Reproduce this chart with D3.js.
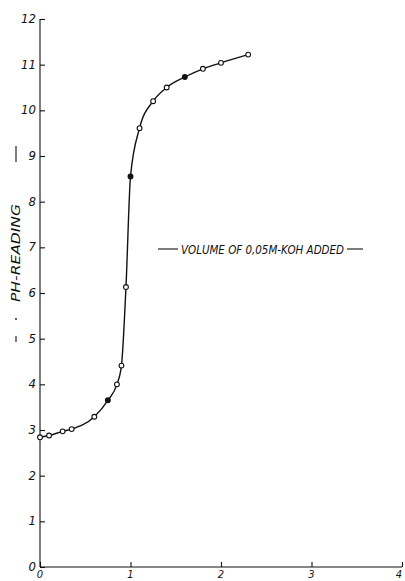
<!DOCTYPE html>
<html>
<head>
<meta charset="utf-8">
<script src="https://cdn.jsdelivr.net/npm/d3@7"></script>
<style>
  html, body { margin: 0; padding: 0; background: #fff; }
  svg { display: block; }
  text { font-family: "Liberation Sans Narrow", "DejaVu Sans Condensed", sans-serif; font-style: italic; fill: #111; }
</style>
</head>
<body>
<svg id="chart"></svg>
<script>
// ---- data ----
const volume = [0, 0.1, 0.25, 0.35, 0.6, 0.75, 0.85, 0.9, 0.95, 1.0, 1.1, 1.25, 1.4, 1.6, 1.8, 2.0, 2.3];
const ph     = [2.84, 2.88, 2.97, 3.02, 3.29, 3.65, 4.0, 4.41, 6.13, 8.55, 9.61, 10.2, 10.5, 10.73, 10.91, 11.04, 11.22];
const filled = [false, false, false, false, false, true, false, false, false, true, false, false, false, true, false, false, false];
const xTicks = [0, 1, 2, 3, 4];
const yTicks = [0, 1, 2, 3, 4, 5, 6, 7, 8, 9, 10, 11, 12];

const width = 405, height = 581;
const svg = d3.select("#chart").attr("width", width).attr("height", height);

const x = d3.scaleLinear().domain([0, 4]).range([40, 402]);
const y = d3.scaleLinear().domain([0, 12]).range([567, 19]);

// axes
const yAxis = d3.axisRight(y).tickValues(yTicks).tickSize(5).tickFormat("");
svg.append("g").attr("transform", `translate(${x(0)},0)`).call(yAxis)
  .call(g => g.select(".domain").attr("d", `M0,${y(0)}V${y(12)}`))
  .selectAll("line,path").attr("stroke", "#111").attr("stroke-width", 1.1);

const xAxis = d3.axisTop(x).tickValues(xTicks).tickSize(5).tickFormat("");
svg.append("g").attr("transform", `translate(0,${y(0)})`).call(xAxis)
  .call(g => g.select(".domain").attr("d", `M${x(0)},0H${x(4)}`))
  .selectAll("line,path").attr("stroke", "#111").attr("stroke-width", 1.1);

// tick labels
svg.append("g").selectAll("text").data(yTicks).join("text")
  .attr("x", x(0) - 4).attr("y", d => y(d) + 4)
  .attr("text-anchor", "end").attr("font-size", 13)
  .text(d => d);

svg.append("g").selectAll("text").data(xTicks).join("text")
  .attr("x", d => x(d) - (d === 4 ? 3 : 0)).attr("y", 577.5)
  .attr("text-anchor", "middle").attr("font-size", 11)
  .text(d => d);

// curve
const pts = volume.map((v, i) => ({ v, p: ph[i], f: filled[i] }));
svg.append("path")
  .datum(pts)
  .attr("fill", "none").attr("stroke", "#111").attr("stroke-width", 1.4)
  .attr("d", d3.line().x(d => x(d.v)).y(d => y(d.p)).curve(d3.curveMonotoneX));

svg.append("g").selectAll("circle").data(pts).join("circle")
  .attr("cx", d => x(d.v)).attr("cy", d => y(d.p)).attr("r", 2.4)
  .attr("fill", d => d.f ? "#111" : "#fff")
  .attr("stroke", "#111").attr("stroke-width", 1.1);

// x label with dashes either side
const lbl = svg.append("g");
lbl.append("line").attr("x1", 158).attr("x2", 178).attr("y1", 249).attr("y2", 249)
  .attr("stroke", "#111").attr("stroke-width", 1.1);
lbl.append("text").attr("x", 181).attr("y", 253.5).attr("font-size", 11.5)
  .attr("textLength", 163).attr("lengthAdjust", "spacingAndGlyphs")
  .text("VOLUME OF 0,05M-KOH ADDED");
lbl.append("line").attr("x1", 347).attr("x2", 363).attr("y1", 249).attr("y2", 249)
  .attr("stroke", "#111").attr("stroke-width", 1.1);

// y label
const yl = svg.append("g");
yl.append("line").attr("x1", 16).attr("x2", 16).attr("y1", 146).attr("y2", 162)
  .attr("stroke", "#111").attr("stroke-width", 1.1);
yl.append("text").attr("transform", "translate(20,302) rotate(-90)")
  .attr("font-size", 11.5).attr("textLength", 98).attr("lengthAdjust", "spacingAndGlyphs")
  .text("PH-READING");
yl.append("circle").attr("cx", 16).attr("cy", 319).attr("r", 0.9).attr("fill", "#111");
yl.append("line").attr("x1", 16).attr("x2", 16).attr("y1", 336).attr("y2", 342)
  .attr("stroke", "#111").attr("stroke-width", 1.1);
</script>
</body>
</html>
